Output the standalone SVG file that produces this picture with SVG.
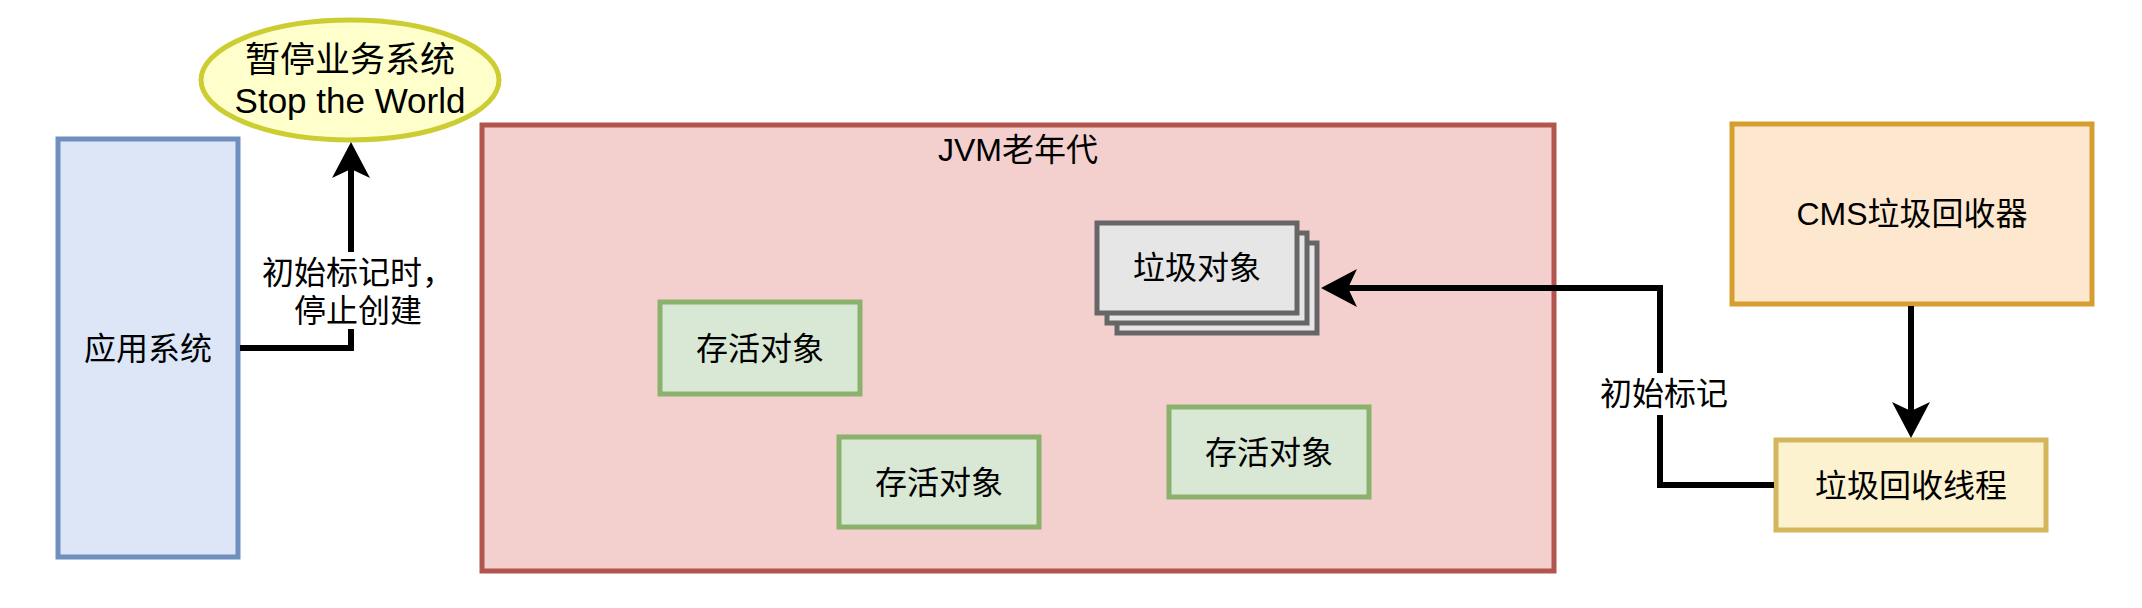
<svg xmlns="http://www.w3.org/2000/svg" width="2142" height="608" viewBox="0 0 2142 608">
<style>
text { font-family: "Liberation Sans", "Noto Sans CJK SC", sans-serif; font-size: 32px; fill: #000; text-anchor: middle; }
.blue { fill: #dce6f7; stroke: #6f8fbf; stroke-width: 5; }
.red { fill: #f3d0ce; stroke: #b3554f; stroke-width: 5; }
.green { fill: #d9e7d5; stroke: #8ab26c; stroke-width: 5; }
.grey { fill: #e6e6e6; stroke: #666666; stroke-width: 5; }
.orange { fill: #fde7cf; stroke: #d69d2f; stroke-width: 5; }
.yellow { fill: #fdf2d0; stroke: #d4b65c; stroke-width: 5; }
.edge { fill: none; stroke: #000; stroke-width: 6; }
.lbl { fill: #fff; stroke: none; }
</style>
<defs>
<marker id="arr" markerUnits="userSpaceOnUse" viewBox="0 0 36 38" markerWidth="36" markerHeight="38" refX="11" refY="19" orient="auto">
<path d="M0,0 L36,19 L0,38 L9,19 Z" fill="#000"/>
</marker>
</defs>
<rect width="2142" height="608" fill="#fff"/>
<g id="jvm">
<rect class="red" x="482" y="125" width="1072" height="446"/>
<text x="1018" y="161">JVM老年代</text>
</g>
<g id="app">
<rect class="blue" x="58" y="139" width="180" height="418"/>
<text x="148" y="360">应用系统</text>
</g>
<g id="stw">
<ellipse cx="350" cy="80" rx="149" ry="60" fill="#ffffcc" stroke="#cccc33" stroke-width="5"/>
<text x="350" y="72" style="font-size:35px">暂停业务系统</text>
<text x="350" y="113" style="font-size:35px">Stop the World</text>
</g>
<g id="live1">
<rect class="green" x="660" y="302" width="200" height="92"/>
<text x="760" y="360">存活对象</text>
</g>
<g id="live2">
<rect class="green" x="839" y="437" width="200" height="90"/>
<text x="939" y="494">存活对象</text>
</g>
<g id="live3">
<rect class="green" x="1169" y="407" width="200" height="90"/>
<text x="1269" y="464">存活对象</text>
</g>
<g id="garbage">
<rect class="grey" x="1117" y="243" width="200" height="90"/>
<rect class="grey" x="1107" y="233" width="200" height="90"/>
<rect class="grey" x="1097" y="223" width="200" height="90"/>
<text x="1197" y="279">垃圾对象</text>
</g>
<g id="cms">
<rect class="orange" x="1732" y="124" width="360" height="180"/>
<text x="1912" y="225">CMS垃圾回收器</text>
</g>
<g id="thread">
<rect class="yellow" x="1776" y="440" width="270" height="90"/>
<text x="1911" y="497">垃圾回收线程</text>
</g>
<g id="connectors">
<path class="edge" d="M240,348 H351 V167" marker-end="url(#arr)"/>
<rect class="lbl" x="262" y="252" width="198" height="77"/>
<text x="358" y="284">初始标记时，</text>
<text x="358" y="322">停止创建</text>
<path class="edge" d="M1774,485 H1660 V288 H1346" marker-end="url(#arr)"/>
<rect class="lbl" x="1597" y="373" width="134" height="42"/>
<text x="1664" y="405">初始标记</text>
<path class="edge" d="M1911,306 V413" marker-end="url(#arr)"/>
</g>
</svg>
